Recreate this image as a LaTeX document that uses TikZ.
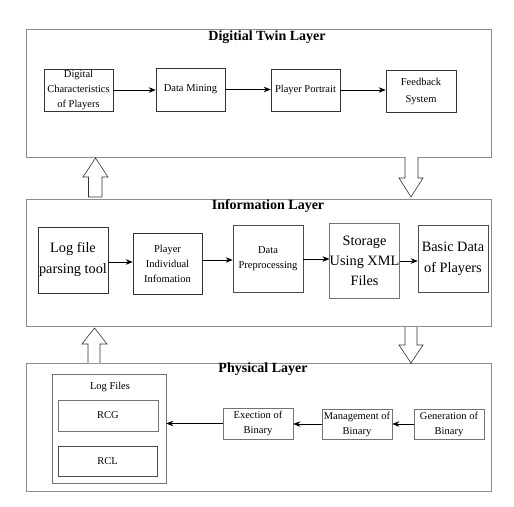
\documentclass[tikz,border=0pt]{standalone}
\usepackage{fontspec}
\setmainfont{Liberation Serif}
\usetikzlibrary{arrows.meta}
\begin{document}
\begin{tikzpicture}[x=1pt,y=-1pt,
  layer/.style={draw=black!45, line width=0.8pt, inner sep=0pt},
  title/.style={font=\fontsize{14}{16}\selectfont\bfseries, inner sep=0pt},
  box/.style={draw=black!80, line width=0.6pt, align=center, inner sep=0pt,
    font=\fontsize{10.5}{15}\selectfont},
  gbox/.style={box, draw=black!55},
  bigbox/.style={box, font=\fontsize{14.3}{21}\selectfont},
  flow/.style={-{Stealth[length=7pt,width=5.5pt]}, line width=0.6pt},
  blockarrow/.style={draw=black!80, fill=white, line width=0.6pt}]
\useasboundingbox[fill=white] (0,0) rectangle (514,506);

% ---------------- Digital twin layer
\node[layer, minimum width=465pt, minimum height=128pt] (twl) at (258.5,93) {};
\node[title] (twt) at (267,37) {Digitial Twin Layer};
\node[box, minimum width=69pt, minimum height=42pt] (dc) at (78.5,90) {Digital\\Characteristics\\of Players};
\node[box, minimum width=69pt, minimum height=43pt] (dm) at (190.5,89.5) {Data Mining};
\node[box, minimum width=69pt, minimum height=42pt] (pp) at (305.5,90) {Player Portrait};
\node[box, minimum width=70pt, minimum height=42pt, font=\fontsize{10.5}{17}\selectfont] (fs) at (421,91) {Feedback\\System};
\draw[flow] (dc.east) -- (dc.east -| dm.west);
\draw[flow] (dm.east) -- (dm.east -| pp.west);
\draw[flow] (pp.east) -- (pp.east -| fs.west);

% ---------------- Information layer
\node[layer, minimum width=465pt, minimum height=127pt] (inl) at (258.5,262.5) {};
\node[title] (int) at (268,206) {Information Layer};
\node[bigbox, minimum width=70pt, minimum height=66pt] (lf) at (73,260) {Log file\\parsing tool};
\node[box, minimum width=69pt, minimum height=61pt] (pi) at (167.5,263.5) {Player\\Individual\\Infomation};
\node[box, draw=black!70, minimum width=70pt, minimum height=67pt] (dp) at (268,258.5) {Data\\Preprocessing};
\node[bigbox, draw=black!55, minimum width=69pt, minimum height=75pt, font=\fontsize{14.3}{20}\selectfont] (st) at (364.5,260.5) {Storage\\Using XML\\Files};
\node[bigbox, draw=black!70, minimum width=70pt, minimum height=67pt] (bd) at (453,258.5) {Basic Data\\of Players};
\draw[flow] ([yshift=-2pt]lf.east) -- ([yshift=-2pt]lf.east -| pi.west);
\draw[flow] (pi.west |- 0,260) ++(69pt,0) -- (dp.west |- 0,260);
\draw[flow] (dp.east |- 0,259) -- (st.west |- 0,259);
\draw[flow] (st.east |- 0,261) -- (bd.west |- 0,261);

% ---------------- Physical layer
\node[layer, minimum width=465pt, minimum height=128pt] (phl) at (258.5,427) {};
\node[title] (pht) at (263,369) {Physical Layer};
\node[gbox, minimum width=114pt, minimum height=109pt] (lgb) at (109,428.5) {};
\node[font=\fontsize{10.5}{15}\selectfont, inner sep=0pt] (lgt) at (110,387) {Log Files};
\node[gbox, minimum width=100pt, minimum height=31pt] (rcg) at (108,415.5) {RCG};
\node[box, draw=black!70, minimum width=99pt, minimum height=30pt] (rcl) at (107.5,461) {RCL};
\node[gbox, minimum width=70pt, minimum height=31pt] (ex) at (258,423.5) {Exection of\\Binary};
\node[gbox, minimum width=70pt, minimum height=30pt] (mg) at (357,424) {Management of\\Binary};
\node[gbox, minimum width=70pt, minimum height=30pt] (gn) at (449,424) {Generation of\\Binary};
\draw[flow] (gn.west) -- (gn.west -| mg.east);
\draw[flow] (mg.west) -- (mg.west -| ex.east);
\draw[flow] (ex.west) -- (ex.west -| lgb.east);

% ---------------- block arrows between layers
\draw[blockarrow] (88.5,197) -- (88.5,177) -- (83,177) -- (95.5,158) -- (108,177) -- (102,177) -- (102,197) -- cycle;
\draw[blockarrow] (405,157) -- (405,178) -- (399,178) -- (411,197) -- (423,178) -- (418,178) -- (418,157);
\draw[blockarrow] (88,363) -- (88,344) -- (82,344) -- (94.5,328) -- (107,344) -- (100,344) -- (100,363);
\draw[blockarrow] (405,327) -- (405,345) -- (399,345) -- (411,363) -- (423,345) -- (417,345) -- (417,327);
\end{tikzpicture}
\end{document}
